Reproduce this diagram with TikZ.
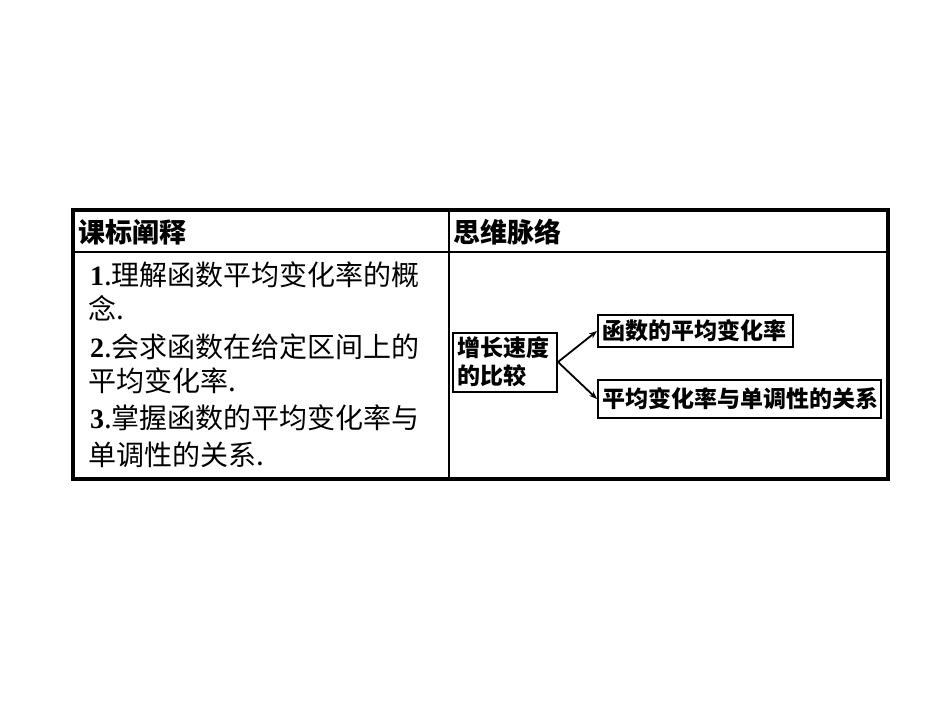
\documentclass[tikz,border=0pt]{standalone}
\usepackage{fontspec}
\setmainfont{Liberation Serif}
\newfontfamily\cjk{Noto Sans CJK SC}
\usetikzlibrary{arrows.meta}
\newcommand{\dg}[1]{{\rmfamily\bfseries #1}}
\begin{document}
\begin{tikzpicture}[x=1pt,y=-1pt,
  ln/.style={anchor=west,inner sep=0pt,font=\cjk\fontsize{28}{28}\selectfont},
  hd/.style={anchor=west,inner sep=0pt,font=\cjk\bfseries\fontsize{27}{27}\selectfont},
  bx/.style={draw,line width=2pt,inner sep=0pt,font=\cjk\bfseries\fontsize{23}{27}\selectfont,align=left},
  arr/.style={line width=1.8pt,-{Stealth[length=8pt,width=6pt]}}]
\useasboundingbox (0,0) rectangle (950,713);
\draw[line width=1.5pt] (73,252) -- (888,252);
\draw[line width=2pt] (449,210) -- (449,479);
\draw[line width=4pt] (73,210) rectangle (888,479);
\node[hd] (h1) at (78,232) {课标阐释};
\node[hd] (h2) at (453,232) {思维脉络};
\node[ln] (l1) at (90,275) {\dg{1}.理解函数平均变化率的概};
\node[ln] (l2) at (88,308) {念.};
\node[ln] (l3) at (90,347) {\dg{2}.会求函数在给定区间上的};
\node[ln] (l4) at (88,381) {平均变化率.};
\node[ln] (l5) at (90,418) {\dg{3}.掌握函数的平均变化率与};
\node[ln] (l6) at (88,455) {单调性的关系.};
\node[bx,draw,minimum width=104pt,minimum height=59pt,anchor=west] (a) at (452,362) {};
\node[anchor=west,align=left,inner sep=0pt,font=\cjk\bfseries\fontsize{23}{28}\selectfont] (at) at (457,362) {增长速度\\的比较};
\node[bx,minimum width=195pt,minimum height=32pt,anchor=west,text width=187pt,inner xsep=4pt] (b) at (597,331) {函数的平均变化率};
\node[bx,minimum width=283pt,minimum height=38pt,anchor=west,text width=275pt,inner xsep=4pt] (c) at (597,399) {平均变化率与单调性的关系};
\draw[arr] (a.east) -- (b.west);
\draw[arr] (a.east) -- (c.west);
\end{tikzpicture}
\end{document}
